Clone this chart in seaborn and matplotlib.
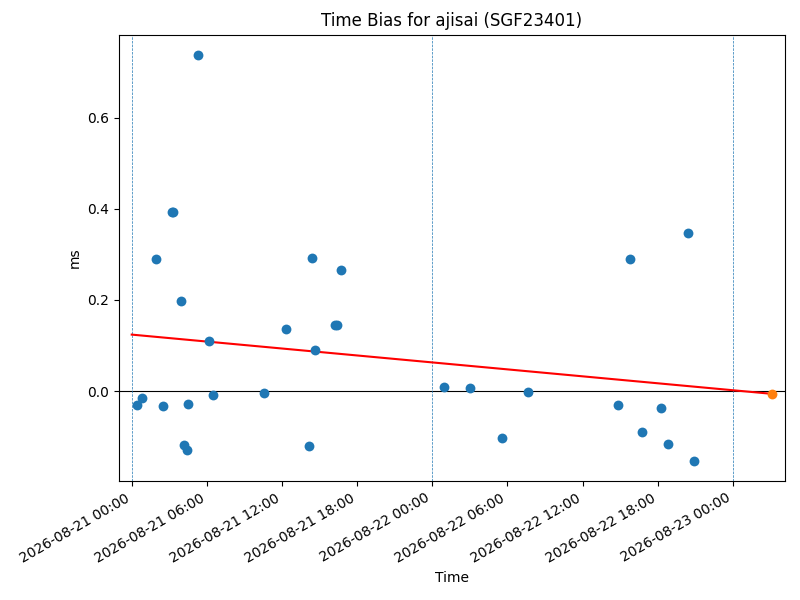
import matplotlib
matplotlib.use("Agg")
import matplotlib.pyplot as plt
import matplotlib.dates as mdates
import seaborn as sns
import pandas as pd
import numpy as np

# hours after 2026-08-21 00:00 and time bias in ms
hours = [0.45, 0.85, 1.96, 2.52, 3.24, 3.31, 3.94, 4.2, 4.44, 4.5, 5.29, 6.17, 6.52,
         10.59, 12.34, 14.16, 14.42, 14.66, 16.25, 16.38, 16.73,
         24.96, 27.03, 29.59, 31.67, 38.85, 39.78, 40.77, 42.28, 42.82, 44.44, 44.89]
bias_ms = [-0.030, -0.014, 0.290, -0.032, 0.393, 0.392, 0.197, -0.118, -0.130, -0.028, 0.737, 0.109, -0.008,
           -0.004, 0.136, -0.121, 0.292, 0.091, 0.146, 0.146, 0.265,
           0.010, 0.006, -0.103, -0.002, -0.030, 0.289, -0.090, -0.037, -0.116, 0.346, -0.153]

# prediction point and linear trend
pred_hour = 51.15
pred_ms = -0.006
trend_start_ms = 0.124

start = pd.Timestamp("2026-08-21 00:00")


def main():
    df = pd.DataFrame({
        "time": start + pd.to_timedelta(hours, unit="h"),
        "bias": bias_ms,
    })
    pred_time = start + pd.to_timedelta(pred_hour, unit="h")
    trend = pd.DataFrame({"time": [start, pred_time], "bias": [trend_start_ms, pred_ms]})

    fig, ax = plt.subplots(figsize=(8, 6), dpi=100)

    sns.scatterplot(data=df, x="time", y="bias", color="C0", s=50, linewidth=0, ax=ax, zorder=3)
    sns.lineplot(data=trend, x="time", y="bias", color="red", linewidth=1.5, ax=ax, zorder=2)
    ax.scatter([pred_time], [pred_ms], color="C1", s=50, linewidth=0, zorder=4)

    ax.axhline(0, color="black", linewidth=0.8, zorder=1)
    for day in pd.date_range("2026-08-21", "2026-08-23", freq="D"):
        ax.axvline(day, color="C0", linestyle="--", linewidth=0.5, zorder=1)

    ax.set_xlim(start - pd.Timedelta(hours=1), pred_time + pd.Timedelta(hours=1))
    ax.xaxis.set_major_locator(mdates.HourLocator(byhour=[0, 6, 12, 18]))
    ax.xaxis.set_major_formatter(mdates.DateFormatter("%Y-%m-%d %H:%M"))
    plt.setp(ax.get_xticklabels(), rotation=30, ha="right")

    ax.set_title("Time Bias for ajisai (SGF23401)")
    ax.set_xlabel("Time")
    ax.set_ylabel("ms")

    fig.subplots_adjust(left=0.149, right=0.981, top=0.942, bottom=0.198)
    fig.savefig("out.png", dpi=100)


if __name__ == "__main__":
    main()
